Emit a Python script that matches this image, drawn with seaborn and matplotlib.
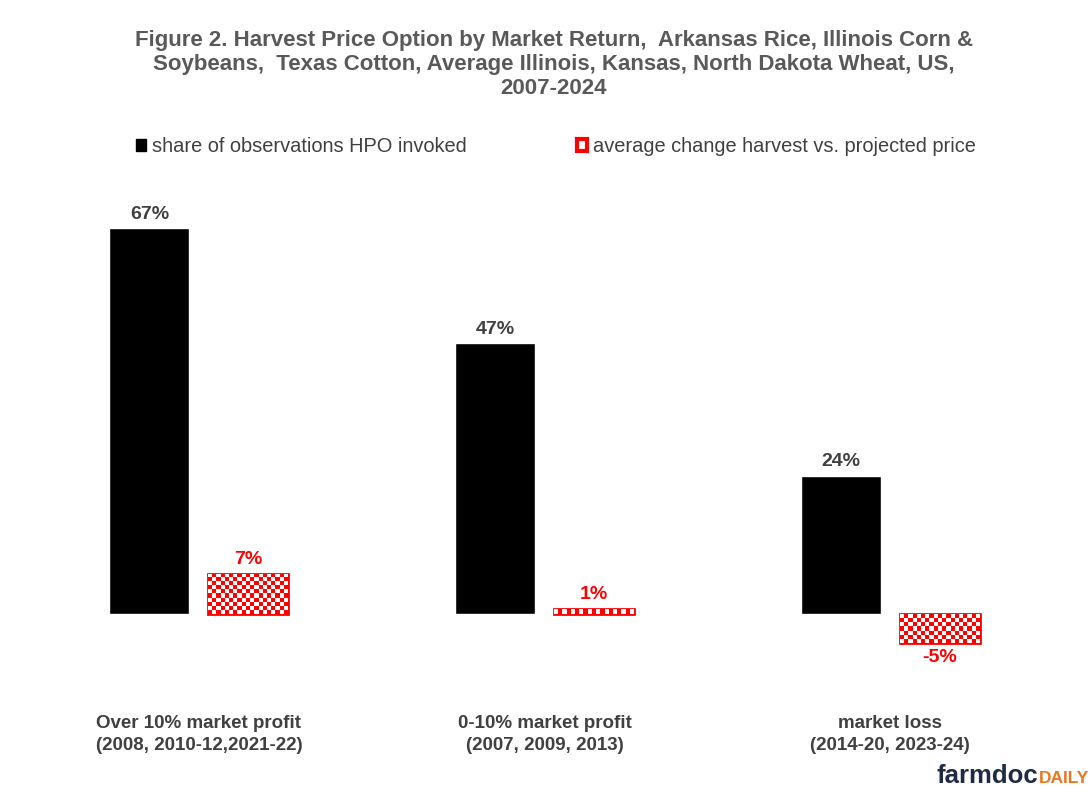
import seaborn as sns
import pandas as pd
import matplotlib.pyplot as plt
import numpy as np
from matplotlib.patches import Patch

# Data
categories = ["Over 10% market profit\n(2008, 2010-12,2021-22)",
              "0-10% market profit\n(2007, 2009, 2013)",
              "market loss\n(2014-20, 2023-24)"]
series = ["share of observations HPO invoked",
          "average change harvest vs. projected price"]
hpo_share = [67, 47, 24]
price_change = [7, 1, -5]

title = ("Figure 2. Harvest Price Option by Market Return,  Arkansas Rice, Illinois Corn &\n"
         "Soybeans,  Texas Cotton, Average Illinois, Kansas, North Dakota Wheat, US,\n"
         "2007-2024")

df = pd.DataFrame({
    "category": categories * 2,
    "series": [series[0]] * 3 + [series[1]] * 3,
    "value": hpo_share + price_change,
})

sns.set_style("white")
plt.rcParams["font.family"] = ["Liberation Sans", "DejaVu Sans"]

fig = plt.figure(figsize=(10.92, 7.92), dpi=100)
ax = fig.add_axes([0.0238, 0.1515, 0.9497, 0.6187])

sns.barplot(data=df, x="category", y="value", hue="series",
            palette=["black", "white"], width=0.573, gap=0.193,
            legend=False, ax=ax)

ax.set_xlim(-0.5, 2.5)
ax.set_ylim(-10, 75)
sns.despine(ax=ax, left=True, bottom=True)
ax.set_yticks([])
ax.set_xlabel("")
ax.set_ylabel("")
ax.tick_params(axis="x", length=0, pad=31)
for lbl in ax.get_xticklabels():
    lbl.set_fontweight("bold")
    lbl.set_fontsize(13.5)
    lbl.set_color("#404040")
    lbl.set_linespacing(1.38)

# checkerboard fill for the price-change bars
fig.canvas.draw()
red_bars = ax.containers[1]
for p in red_bars.patches:
    p.set_edgecolor("red")
    p.set_linewidth(2)
    x0, y0 = p.get_x(), p.get_y()
    w, h = p.get_width(), p.get_height()
    ext = ax.transData.transform([[x0, y0], [x0 + w, y0 + h]])
    npx = max(int(abs(ext[1, 0] - ext[0, 0]) / 4), 1)
    npy = max(int(abs(ext[1, 1] - ext[0, 1]) / 4), 1)
    board = (np.indices((npy, npx)).sum(axis=0) % 2).astype(float)
    img = np.ones((npy, npx, 4))
    img[board == 1] = [1, 0, 0, 1]
    ymin, ymax = min(y0, y0 + h), max(y0, y0 + h)
    im = ax.imshow(img, extent=[x0, x0 + w, ymin, ymax], aspect="auto",
                   interpolation="nearest", zorder=p.get_zorder() + 0.1)
    im.set_clip_path(p)
ax.set_xlim(-0.5, 2.5)
ax.set_ylim(-10, 75)

ax.bar_label(ax.containers[0], labels=[f"{v}%" for v in hpo_share],
             padding=4, fontsize=14, fontweight="bold", color="#404040")
ax.bar_label(red_bars, labels=[f"{v}%" for v in price_change],
             padding=4, fontsize=14, fontweight="bold", color="red")

handles = [Patch(facecolor="black", edgecolor="black"),
           Patch(facecolor="white", edgecolor="red", linewidth=3)]
fig.legend(handles, series, loc="center", bbox_to_anchor=(0.509, 0.815),
           ncol=2, frameon=False, fontsize=14.4, labelcolor="#404040",
           handlelength=0.5, handleheight=0.5, handletextpad=0.3,
           columnspacing=5.5)

fig.text(0.507, 0.962, title, ha="center", va="top", fontsize=16,
         fontweight="bold", color="#595959", linespacing=1.17)

# logo
fig.text(0.951, 0.0114, "farmdoc", ha="right", va="baseline", fontsize=18.5,
         fontweight="bold", color="#1f2a44")
fig.text(0.951, 0.0114, "DAILY", ha="left", va="baseline", fontsize=12.5,
         fontweight="bold", color="#e87722")

fig.savefig("out.png", dpi=100)
